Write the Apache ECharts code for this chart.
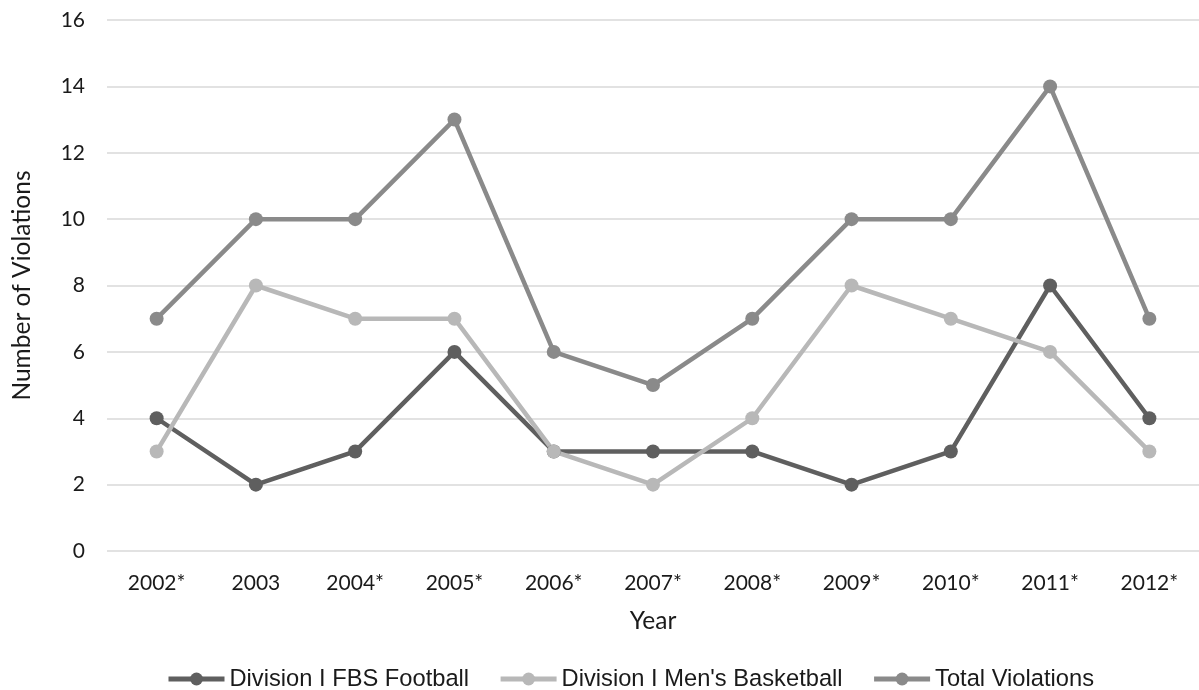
<!DOCTYPE html>
<html>
<head>
<meta charset="utf-8">
<script src="https://cdn.jsdelivr.net/npm/echarts@6/dist/echarts.min.js"></script>
<style>
    html, body { margin: 0; padding: 0; background: #fff; }
    #myChart { width: 1199px; height: 690px; }
</style>
</head>
<body>
<div id="myChart"></div>
<script>
    // 数据
    var years = ['2002*', '2003', '2004*', '2005*', '2006*', '2007*', '2008*', '2009*', '2010*', '2011*', '2012*']
    var football = [4, 2, 3, 6, 3, 3, 3, 2, 3, 8, 4]
    var basketball = [3, 8, 7, 7, 3, 2, 4, 8, 7, 6, 3]
    var totalViolations = [7, 10, 10, 13, 6, 5, 7, 10, 10, 14, 7]
    var yTicks = [0, 2, 4, 6, 8, 10, 12, 14, 16]

    var axisFont = 'Lato'
    var myChart = echarts.init(document.getElementById('myChart'))

    function lineSeries (name, data, color) {
        return {
            name: name,
            type: 'line',
            data: data,
            symbol: 'circle',
            symbolSize: 14,
            itemStyle: {color: color},
            lineStyle: {color: color, width: 4.5},
            emphasis: {disabled: true}
        }
    }

    myChart.setOption({
        animation: false,
        color: ['#5f5f5f', '#b8b8b8', '#8a8a8a'],
        grid: {left: 107, right: -5, top: 20, bottom: 139},
        legend: {
            left: 161,
            top: 662,
            itemWidth: 56,
            itemHeight: 16,
            itemGap: 29,
            lineStyle: {width: 5},
            textStyle: {fontFamily: 'Liberation Sans', fontSize: 23.7, color: '#1a1a1a'},
            data: ['Division I FBS Football', 'Division I Men\'s Basketball', 'Total Violations']
        },
        xAxis: {
            type: 'category',
            data: years,
            name: 'Year',
            nameLocation: 'middle',
            nameGap: 58,
            nameTextStyle: {fontFamily: axisFont, fontSize: 24.5, color: '#1a1a1a'},
            axisLine: {show: false},
            axisTick: {show: false},
            axisLabel: {fontFamily: axisFont, fontSize: 21, color: '#1a1a1a', margin: 22, interval: 0}
        },
        yAxis: {
            type: 'value',
            min: yTicks[0],
            max: yTicks[yTicks.length - 1],
            interval: 2,
            name: 'Number of Violations',
            nameLocation: 'middle',
            nameGap: 72,
            nameTextStyle: {fontFamily: axisFont, fontSize: 24.5, color: '#1a1a1a'},
            axisLine: {show: false},
            axisTick: {show: false},
            axisLabel: {fontFamily: axisFont, fontSize: 21, color: '#1a1a1a', margin: 22},
            splitLine: {lineStyle: {color: '#d9d9d9', width: 1.5}}
        },
        series: [
            lineSeries('Division I FBS Football', football, '#5f5f5f'),
            lineSeries('Division I Men\'s Basketball', basketball, '#b8b8b8'),
            lineSeries('Total Violations', totalViolations, '#8a8a8a')
        ]
    })
    window.onresize = myChart.resize
</script>
</body>
</html>
